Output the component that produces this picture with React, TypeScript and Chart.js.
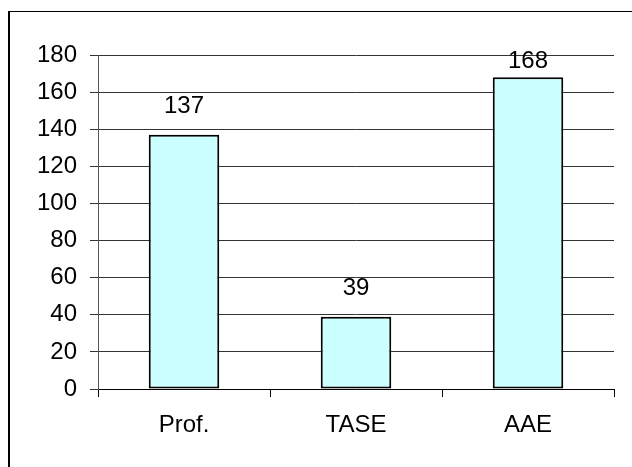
import React, { useEffect, useRef } from "react";
import { Chart, registerables } from "chart.js";

Chart.register(...registerables);

// Number of entries per group
const categories: string[] = ["Prof.", "TASE", "AAE"];
const counts: number[] = [137, 39, 168];
const yMin = 0;
const yMax = 180;
const yStep = 20;

const FONT_FAMILY = "'Liberation Sans', Arial, Helvetica, sans-serif";
const FONT_SIZE = 24;

// Draws each bar's value above it, kept inside the plot area
const valueLabels = {
  id: "valueLabels",
  afterDatasetsDraw(chart: any) {
    const ctx = chart.ctx as CanvasRenderingContext2D;
    const meta = chart.getDatasetMeta(0);
    const top = chart.chartArea.top;
    ctx.save();
    ctx.font = `${FONT_SIZE}px ${FONT_FAMILY}`;
    ctx.fillStyle = "#000";
    ctx.textAlign = "center";
    ctx.textBaseline = "alphabetic";
    meta.data.forEach((bar: any, i: number) => {
      const y = Math.max(bar.y - 22, top + 13);
      ctx.fillText(String(counts[i]), bar.x, y);
    });
    ctx.restore();
  },
};

export default function App() {
  const canvasRef = useRef<HTMLCanvasElement | null>(null);

  useEffect(() => {
    const canvas = canvasRef.current;
    if (!canvas) return;
    const chart = new Chart(canvas, {
      type: "bar",
      data: {
        labels: categories,
        datasets: [
          {
            data: counts,
            backgroundColor: "#CCFFFF",
            borderColor: "#000000",
            borderWidth: 2,
            borderSkipped: false,
            categoryPercentage: 1,
            barPercentage: 0.41,
          },
        ],
      },
      options: {
        responsive: false,
        animation: false,
        devicePixelRatio: 1,
        layout: { padding: { left: 0, top: 55, right: 18, bottom: 0 } },
        plugins: {
          legend: { display: false },
          tooltip: { enabled: false },
        },
        scales: {
          x: {
            grid: {
              display: true,
              drawOnChartArea: false,
              drawTicks: true,
              tickLength: 8,
              color: "#000",
              lineWidth: 1,
              offset: true,
            },
            border: { display: true, color: "#000", width: 1 },
            ticks: {
              color: "#000",
              padding: 14,
              font: { family: FONT_FAMILY, size: FONT_SIZE },
              maxRotation: 0,
            },
            afterFit(scale: any) {
              scale.height = 78;
            },
          },
          y: {
            min: yMin,
            max: yMax,
            grid: {
              display: true,
              drawOnChartArea: true,
              drawTicks: true,
              tickLength: 8,
              color: "#333",
              lineWidth: 1,
            },
            border: { display: true, color: "#555", width: 1 },
            ticks: {
              stepSize: yStep,
              color: "#000",
              padding: 13,
              font: { family: FONT_FAMILY, size: FONT_SIZE },
            },
            afterFit(scale: any) {
              scale.width = 98;
            },
          },
        },
      },
      plugins: [valueLabels],
    });
    return () => chart.destroy();
  }, []);

  return (
    <div>
      <canvas
        ref={canvasRef}
        width={632}
        height={467}
        style={{ position: "absolute", left: 0, top: 0, width: 632, height: 467 }}
      />
      <div
        style={{
          position: "absolute",
          left: 8,
          top: 11,
          width: 624,
          height: 456,
          boxSizing: "border-box",
          borderLeft: "2px solid #000",
          borderTop: "1px solid #000",
          pointerEvents: "none",
        }}
      />
    </div>
  );
}
